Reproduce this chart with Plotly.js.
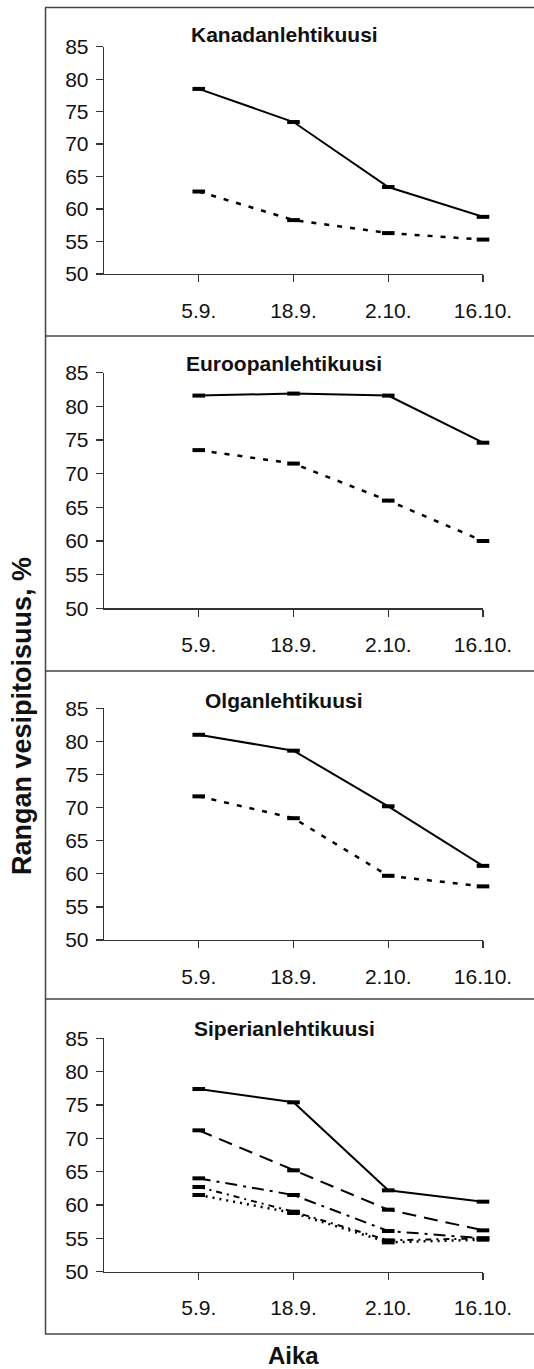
<!DOCTYPE html>
<html>
<head>
<meta charset="utf-8">
<script src="https://cdn.plot.ly/plotly-3.0.1.min.js"></script>
<style>html,body{margin:0;padding:0;background:#fff;}#chart{width:534px;height:1369px;}</style>
</head>
<body>
<div id="chart"></div>
<script>
// ---- data ----
const dates = ['5.9.', '18.9.', '2.10.', '16.10.'];
const yTickVals = [50, 55, 60, 65, 70, 75, 80, 85];
const panelTitles = ['Kanadanlehtikuusi', 'Euroopanlehtikuusi', 'Olganlehtikuusi', 'Siperianlehtikuusi'];

const kanadaSolid  = [78.5, 73.4, 63.4, 58.8];
const kanadaDotted = [62.7, 58.3, 56.3, 55.3];
const euroopSolid  = [81.6, 81.9, 81.6, 74.6];
const euroopDotted = [73.5, 71.5, 66.0, 60.0];
const olgaSolid    = [81.0, 78.6, 70.2, 61.2];
const olgaDotted   = [71.7, 68.4, 59.7, 58.1];
const siperSolid    = [77.4, 75.4, 62.2, 60.5];
const siperLongDash = [71.2, 65.2, 59.3, 56.2];
const siperDashDot  = [64.0, 61.5, 56.1, 55.0];
const siperDashDots = [62.7, 59.0, 54.7, 55.0];
const siperDotted   = [61.5, 58.8, 54.4, 54.8];

const yTitle = 'Rangan vesipitoisuus, %';
const xTitle = 'Aika';

// ---- layout geometry (pixels) ----
const W = 534, H = 1369;
const py = p => 1 - p / H;
const px = p => p / W;
const plotTops = [46.7, 372.7, 708.3, 1038.3];
const plotBots = [274, 608.3, 940, 1271.7];
const titleY = [35, 363, 700, 1028];
const xDom = [px(104), px(483)];
const FONT = 'Liberation Sans, Arial, Helvetica, sans-serif';

const styles = {
  solid:   {dash: 'solid', width: 2},
  dotted:  {dash: '5px,8px', width: 2.5},
  long:    {dash: '14px,8px', width: 2},
  dashdot: {dash: '12px,6px,3px,6px', width: 2},
  dashdots:{dash: '6px,5px,2px,5px', width: 2},
  dots:    {dash: '2px,5px', width: 2.5}
};

const panels = [
  [[kanadaSolid, 'solid'], [kanadaDotted, 'dotted']],
  [[euroopSolid, 'solid'], [euroopDotted, 'dotted']],
  [[olgaSolid, 'solid'], [olgaDotted, 'dotted']],
  [[siperSolid, 'solid'], [siperLongDash, 'long'], [siperDashDot, 'dashdot'], [siperDashDots, 'dashdots'], [siperDotted, 'dots']]
];

const traces = [];
const layout = {
  width: W, height: H,
  margin: {l: 0, r: 0, t: 0, b: 0},
  paper_bgcolor: '#fff', plot_bgcolor: 'rgba(0,0,0,0)',
  showlegend: false,
  font: {family: FONT, color: '#111', size: 21},
  annotations: [], shapes: []
};

panels.forEach((series, i) => {
  const n = i + 1;
  const xa = 'x' + n, ya = 'y' + n;
  series.forEach(([vals, st]) => {
    traces.push({
      x: dates, y: vals, xaxis: xa, yaxis: ya,
      type: 'scatter', mode: 'lines+markers', cliponaxis: false,
      line: {color: '#000', width: styles[st].width, dash: styles[st].dash},
      marker: {symbol: 'line-ew', size: 9, color: '#000', line: {width: 4, color: '#000'}},
      hoverinfo: 'skip'
    });
  });
  const yDom = [py(plotBots[i]), py(plotTops[i])];
  layout['xaxis' + n] = {
    domain: xDom, anchor: ya, type: 'category', range: [-1, 3],
    categoryorder: 'array', categoryarray: dates,
    showline: true, linecolor: '#333', linewidth: 1.3,
    ticks: 'outside', ticklen: 7, tickwidth: 1.3, tickcolor: '#333',
    showgrid: false, zeroline: false, fixedrange: true,
    tickfont: {family: FONT, size: 21, color: '#111'}, ticklabelstandoff: 10
  };
  layout['yaxis' + n] = {
    domain: yDom, anchor: xa, range: [50, 85], tickvals: yTickVals,
    showline: true, linecolor: '#333', linewidth: 1.3,
    ticks: 'outside', ticklen: 7, tickwidth: 1.3, tickcolor: '#333',
    showgrid: false, zeroline: false, fixedrange: true,
    tickfont: {family: FONT, size: 21, color: '#111'}, ticklabelstandoff: 3
  };
  // overlay axes for the inner half of the crossing ticks
  layout['xaxis' + (n + 4)] = {
    domain: xDom, anchor: ya, overlaying: xa, range: [-1, 3], tickvals: [0, 1, 2, 3],
    showline: false, ticks: 'inside', ticklen: 6, tickwidth: 1.3, tickcolor: '#333',
    showticklabels: false, showgrid: false, zeroline: false, fixedrange: true
  };
  layout['yaxis' + (n + 4)] = {
    domain: yDom, anchor: xa, overlaying: ya, range: [50, 85], tickvals: yTickVals,
    showline: false, ticks: 'inside', ticklen: 6, tickwidth: 1.3, tickcolor: '#333',
    showticklabels: false, showgrid: false, zeroline: false, fixedrange: true
  };
  layout.annotations.push({
    text: '<b>' + panelTitles[i] + '</b>', xref: 'paper', yref: 'paper',
    x: px(284), y: py(titleY[i]), xanchor: 'center', yanchor: 'middle',
    showarrow: false, font: {family: FONT, size: 21, color: '#111'}
  });
});

// overall axis titles
layout.annotations.push({
  text: '<b>' + yTitle + '</b>', xref: 'paper', yref: 'paper',
  x: px(22), y: py(716), xanchor: 'center', yanchor: 'middle', textangle: -90,
  showarrow: false, font: {family: FONT, size: 27, color: '#111'}
});
layout.annotations.push({
  text: '<b>' + xTitle + '</b>', xref: 'paper', yref: 'paper',
  x: px(293), y: py(1355), xanchor: 'center', yanchor: 'middle',
  showarrow: false, font: {family: FONT, size: 24, color: '#111'}
});

// frame lines
const frameYs = [7.5, 336, 671, 999, 1334];
frameYs.forEach(y => layout.shapes.push({
  type: 'line', xref: 'paper', yref: 'paper', x0: px(45), x1: 1, y0: py(y), y1: py(y),
  line: {color: '#444', width: 1.5}
}));
layout.shapes.push({
  type: 'line', xref: 'paper', yref: 'paper', x0: px(45.5), x1: px(45.5), y0: py(7.5), y1: py(1334),
  line: {color: '#444', width: 1.5}
});

Plotly.newPlot('chart', traces, layout, {staticPlot: true, displayModeBar: false});
</script>
</body>
</html>
